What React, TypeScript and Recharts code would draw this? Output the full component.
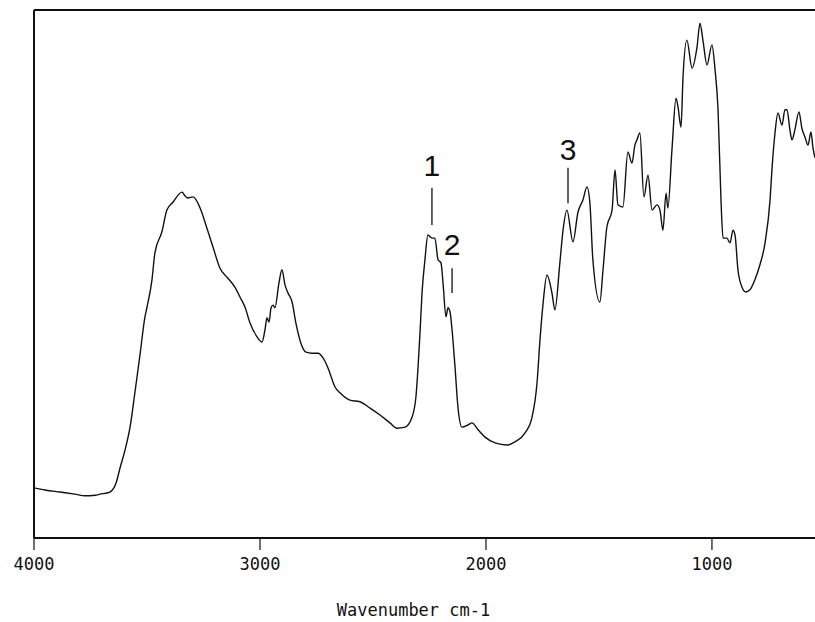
import { LineChart, Line, XAxis, YAxis, ReferenceLine, ReferenceDot, Label } from "recharts";

// wavenumbers (cm-1), high to low
const wavenumbers = [
  4000, 3951, 3885, 3819, 3774, 3730, 3708, 3664, 3637, 3619, 3597, 3575, 3553, 3531, 3509, 3500,
  3478, 3465, 3434, 3412, 3385, 3345, 3332, 3319, 3296, 3265, 3235, 3208, 3177, 3146, 3111, 3088,
  3066, 3044, 3013, 2991, 2978, 2969, 2960, 2951, 2942, 2934, 2916, 2903, 2889, 2876, 2858, 2841,
  2819, 2796, 2770, 2743, 2721, 2699, 2668, 2646, 2602, 2558, 2513, 2469, 2425, 2394, 2358, 2327,
  2310, 2292, 2283, 2270, 2257, 2239, 2226, 2212, 2199, 2190, 2177, 2168, 2159, 2150, 2137, 2124,
  2106, 2080, 2062, 2035, 2004, 1960, 1907, 1872, 1827, 1796, 1774, 1761, 1748, 1730, 1708, 1695,
  1673, 1659, 1642, 1615, 1593, 1571, 1553, 1540, 1527, 1496, 1482, 1465, 1442, 1429, 1416, 1394,
  1372, 1354, 1341, 1332, 1319, 1301, 1283, 1265, 1243, 1230, 1217, 1203, 1195, 1177, 1159, 1150,
  1137, 1128, 1111, 1088, 1066, 1053, 1040, 1022, 1000, 987, 973, 960, 951, 934, 920, 907,
  898, 885, 867, 850, 832, 810, 788, 765, 743, 734, 721, 708, 690, 677, 668, 655,
  646, 633, 615, 602, 588, 575, 562, 553, 544,
];

// absorbance, arbitrary units (0 = baseline axis, 100 = top frame)
const absorbance = [
  9.5, 9.1, 8.7, 8.3, 8.0, 8.1, 8.3, 8.7, 10.4, 13.3, 16.7, 21.0, 27.7, 34.7, 41.9, 43.7,
  48.9, 54.0, 58.0, 62.1, 63.6, 65.5, 64.8, 64.4, 64.6, 62.5, 58.7, 55.1, 51.1, 49.4, 47.5, 45.6,
  43.7, 40.7, 38.1, 37.1, 39.4, 41.7, 40.9, 43.6, 44.1, 43.6, 48.3, 50.8, 47.9, 46.4, 44.7, 40.7,
  36.9, 35.2, 35.0, 35.0, 34.1, 32.2, 28.6, 27.5, 26.1, 25.8, 24.6, 23.3, 21.8, 20.8, 21.0, 22.9,
  26.7, 38.8, 46.4, 52.7, 57.4, 56.8, 56.8, 52.7, 52.1, 48.3, 41.9, 43.6, 42.8, 39.4, 32.4, 24.8,
  21.0, 21.4, 21.8, 20.5, 19.1, 18.0, 17.6, 18.2, 19.9, 22.9, 29.4, 37.5, 44.1, 49.8, 46.4, 43.2,
  52.1, 58.3, 62.1, 56.1, 61.7, 64.0, 66.5, 63.4, 52.7, 44.7, 50.8, 58.9, 62.1, 69.7, 63.1, 62.7,
  73.1, 71.0, 74.4, 75.4, 76.7, 64.6, 68.7, 62.1, 63.1, 62.1, 58.3, 65.3, 62.5, 73.5, 83.3, 81.6,
  77.8, 87.3, 94.3, 89.0, 93.0, 97.5, 94.3, 89.6, 93.4, 89.0, 81.1, 64.0, 56.8, 56.8, 55.9, 58.3,
  57.4, 50.8, 47.5, 46.6, 47.0, 48.9, 51.7, 55.9, 64.0, 70.1, 76.7, 80.5, 78.2, 81.1, 81.1, 77.3,
  75.4, 77.3, 80.7, 77.6, 75.9, 74.4, 76.9, 73.9, 72.0,
];

const xTicks = [4000, 3000, 2000, 1000];

// peak markers: label, position, text centre, marker line top/bottom
const peakLabels = ["1", "2", "3"];
const peakWavenumbers = [2239, 2150, 1637];
const peakTextY = [70.6, 55.7, 73.7];
const peakLineTop = [66.3, 51.1, 70.1];
const peakLineBottom = [59.3, 46.4, 63.4];

const data = wavenumbers.map((wn, i) => ({ wn, a: absorbance[i] }));

const ink = "#111";
const mono = "'DejaVu Sans Mono', monospace";

export default function App() {
  return (
    <div style={{ position: "absolute", left: 0, top: 0, width: 815, height: 622, background: "#fff", overflow: "hidden" }}>
      <LineChart width={815} height={622} data={data} margin={{ top: 10, right: 0, left: 0, bottom: 0 }}>
        <XAxis
          dataKey="wn"
          type="number"
          domain={[544, 4000]}
          reversed
          allowDataOverflow
          ticks={xTicks}
          height={84}
          tickSize={12}
          tickMargin={8}
          axisLine={{ stroke: ink, strokeWidth: 2 }}
          tickLine={{ stroke: ink, strokeWidth: 1.2 }}
          tick={{ fill: ink, fontSize: 17, fontFamily: mono }}
        >
          <Label
            value="Wavenumber cm-1"
            position="insideBottom"
            offset={6}
            dx={-11}
            fill={ink}
            fontSize={17}
            fontFamily={mono}
          />
        </XAxis>
        <YAxis
          type="number"
          domain={[0, 100]}
          width={34}
          tick={false}
          tickLine={false}
          axisLine={{ stroke: ink, strokeWidth: 2 }}
        />
        <ReferenceLine y={100} stroke={ink} strokeWidth={2} />
        <Line
          type="monotone"
          dataKey="a"
          stroke={ink}
          strokeWidth={1.4}
          dot={false}
          isAnimationActive={false}
        />
        {peakLabels.map((p, i) => (
          <ReferenceLine
            key={"l" + p}
            segment={[
              { x: peakWavenumbers[i], y: peakLineTop[i] },
              { x: peakWavenumbers[i], y: peakLineBottom[i] },
            ]}
            stroke={ink}
            strokeWidth={1.3}
          />
        ))}
        {peakLabels.map((p, i) => (
          <ReferenceDot
            key={"t" + p}
            x={peakWavenumbers[i]}
            y={peakTextY[i]}
            r={0}
            fill="none"
            stroke="none"
            label={{ value: p, position: "center", fill: ink, fontSize: 30, fontFamily: "'Liberation Sans', sans-serif" }}
          />
        ))}
      </LineChart>
    </div>
  );
}
